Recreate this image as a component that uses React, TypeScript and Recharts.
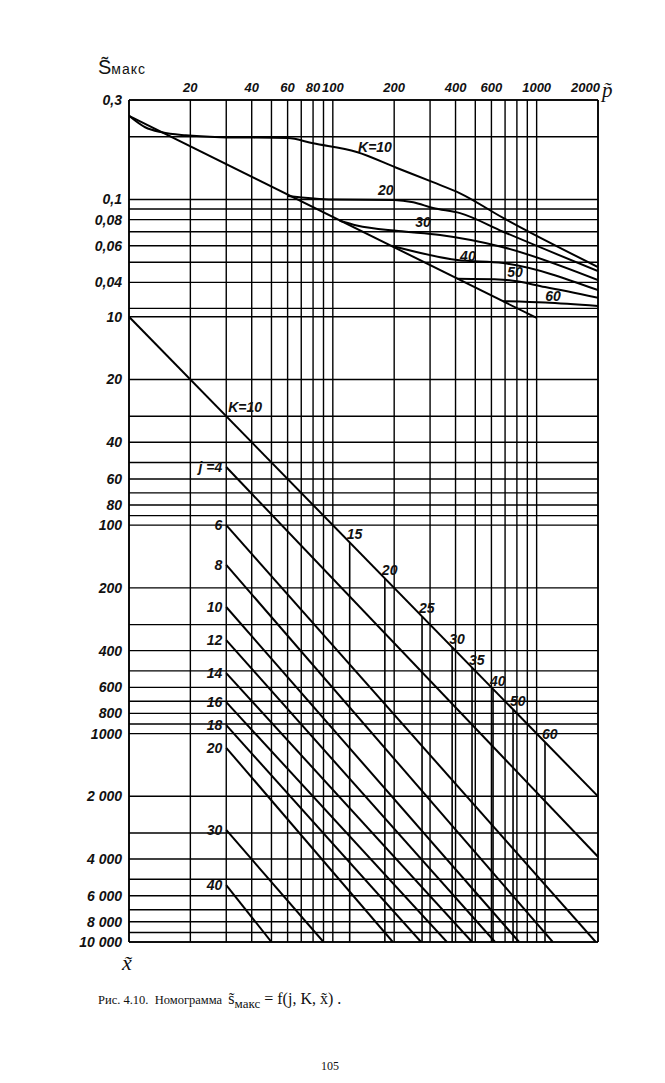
import React from "react";
import {
  LineChart,
  Line,
  XAxis,
  YAxis,
  CartesianGrid,
  ReferenceDot,
  ReferenceLine,
} from "recharts";

// p~ (top axis, log) — vertical grid lines
const pGrid = [20, 30, 40, 50, 60, 70, 80, 90, 100, 200, 300, 400, 500, 600, 700, 800, 900, 1000, 2000];
const pTickLabels = [20, 40, 60, 80, 100, 200, 400, 600, 1000, 2000];

// upper block: s~макс (log)
const sGrid = [0.3, 0.2, 0.1, 0.09, 0.08, 0.07, 0.06, 0.05, 0.04, 0.03];
const sLabelValues = [0.3, 0.1, 0.08, 0.06, 0.04];
const sLabelText = ["0,3", "0,1", "0,08", "0,06", "0,04"];

// lower block: x~ (log)
const xGrid = [10, 20, 30, 40, 50, 60, 70, 80, 90, 100, 200, 300, 400, 500, 600, 700, 800, 900, 1000,
  2000, 3000, 4000, 5000, 6000, 7000, 8000, 9000, 10000];
const xLabelValues = [10, 20, 40, 60, 80, 100, 200, 400, 600, 800, 1000, 2000, 4000, 6000, 8000, 10000];
const xLabelText = ["10", "20", "40", "60", "80", "100", "200", "400", "600", "800", "1000",
  "2 000", "4 000", "6 000", "8 000", "10 000"];

// upper block curves [p~, s~макс]
const envelopeLine = [[10, 0.252], [1000, 0.027]];
const k10Curve = [[10, 0.252], [12, 0.222], [14.5, 0.21], [19, 0.203], [28, 0.199], [60, 0.197], [80, 0.186],
  [131, 0.169], [205, 0.142], [310, 0.121], [421, 0.107], [685, 0.0815], [2000, 0.0474]];
const k20Curve = [[60, 0.104], [100, 0.1], [200, 0.0995], [248, 0.097], [310, 0.091], [421, 0.086], [685, 0.07], [2000, 0.0453]];
const k30Curve = [[108, 0.079], [131, 0.075], [210, 0.0705], [336, 0.0675], [685, 0.059], [2000, 0.041]];
const k40Curve = [[194, 0.06], [408, 0.0512], [685, 0.0495], [2000, 0.0367]];
const k50Curve = [[408, 0.0416], [685, 0.0412], [1100, 0.038], [2000, 0.0337]];
const k60Curve = [[685, 0.0325], [1100, 0.032], [2000, 0.0308]];
const topCurves = [k10Curve, k20Curve, k30Curve, k40Curve, k50Curve, k60Curve];

// lower block [p~, x~]
const kDiagonal = [[10, 10], [2000, 2000]];
const jValues = [4, 6, 8, 10, 12, 14, 16, 18, 20, 30, 40];
const jStartP = 30;
const jStartX = [52.6, 100, 155, 247, 356, 513, 706, 910, 1170, 2900, 5330];
const jEndP = [2000, 1950, 1200, 820, 625, 482, 363, 271, 197, 90, 50];
const jEndX = [3900, 10000, 10000, 10000, 10000, 10000, 10000, 10000, 10000, 10000, 10000];
const kDropP = [121, 180, 274, 385, 482, 611, 766, 1099];
const kDropK = [15, 20, 25, 30, 35, 40, 50, 60];

// one vertical coordinate in decades: s block on top, x block below
const S_TOP = 0.3;
const X_TOP = 10;
const GAP = 1.04;
const T_MAX = GAP + 3;
const tS = (s: number) => Math.log10(S_TOP / s);
const tX = (x: number) => GAP + Math.log10(x / X_TOP);

const topData = (pts: number[][]) => pts.map(([p, s]) => ({ p, y: tS(s) }));
const botData = (pts: number[][]) => pts.map(([p, x]) => ({ p, y: tX(x) }));

const yTicks = [...sGrid.map(tS), ...xGrid.map(tX)];
const yLabelMap = new Map<string, string>();
sLabelValues.forEach((v, i) => yLabelMap.set(tS(v).toFixed(4), sLabelText[i]));
xLabelValues.forEach((v, i) => yLabelMap.set(tX(v).toFixed(4), xLabelText[i]));

const hand = {
  fontFamily: "'Liberation Sans', Arial, sans-serif",
  fontStyle: "italic" as const,
  fontWeight: 700,
  fill: "#111",
};

const YTick = (props: any) => {
  const { x, y, payload } = props;
  const txt = yLabelMap.get(Number(payload.value).toFixed(4));
  if (!txt) return <g />;
  return (
    <text x={x} y={y} textAnchor="end" dominantBaseline="central" style={{ ...hand, fontSize: 14 }}>
      {txt}
    </text>
  );
};

const XTick = (props: any) => {
  const { x, y, payload } = props;
  if (!pTickLabels.includes(payload.value)) return <g />;
  const last = payload.value === 2000;
  return (
    <text x={last ? x + 2 : x} y={y} textAnchor={last ? "end" : "middle"} style={{ ...hand, fontSize: 13 }}>
      {payload.value}
    </text>
  );
};

const textShape = (txt: string, dx: number, dy: number, anchor: string, size = 14) => (props: any) => (
  <text x={props.cx + dx} y={props.cy + dy} textAnchor={anchor} style={{ ...hand, fontSize: size }}>
    {txt}
  </text>
);

const App = () => {
  const line = { stroke: "#000", dot: false, isAnimationActive: false, dataKey: "y" };
  return (
    <div style={{ position: "relative", width: 620, height: 1070 }}>
      <LineChart width={610} height={965} margin={{ top: 72, right: 20, left: 71, bottom: 31 }}>
        <CartesianGrid stroke="#000" strokeWidth={1.4} />
        <XAxis
          dataKey="p"
          type="number"
          scale="log"
          domain={[10, 2000]}
          allowDataOverflow
          orientation="top"
          height={20}
          ticks={pGrid}
          interval={0}
          tick={<XTick />}
          tickLine={false}
          tickSize={0}
          tickMargin={8}
          axisLine={{ stroke: "#000", strokeWidth: 1.6 }}
        />
        <YAxis
          type="number"
          domain={[0, T_MAX]}
          reversed
          allowDataOverflow
          width={50}
          ticks={yTicks}
          interval={0}
          tick={<YTick />}
          tickLine={false}
          tickSize={0}
          tickMargin={7}
          axisLine={{ stroke: "#000", strokeWidth: 1.6 }}
        />
        <ReferenceLine x={2000} stroke="#000" strokeWidth={1.6} />
        <ReferenceLine y={T_MAX} stroke="#000" strokeWidth={1.6} />

        {/* upper block */}
        <Line {...line} data={topData(envelopeLine)} type="linear" strokeWidth={2} />
        {topCurves.map((c, i) => (
          <Line key={"k" + i} {...line} data={topData(c)} type="monotone" strokeWidth={2} />
        ))}

        {/* lower block */}
        <Line {...line} data={botData(kDiagonal)} type="linear" strokeWidth={2} />
        {jValues.map((j, i) => (
          <Line
            key={"j" + j}
            {...line}
            data={botData([[jStartP, jStartX[i]], [jEndP[i], jEndX[i]]])}
            type="linear"
            strokeWidth={2}
          />
        ))}
        {kDropP.map((p) => (
          <Line key={"d" + p} {...line} data={botData([[p, p], [p, 10000]])} type="linear" strokeWidth={1.6} />
        ))}

        {/* labels */}
        <ReferenceDot x={161} y={tS(0.178)} r={0} shape={textShape("K=10", 0, 5, "middle")} />
        <ReferenceDot x={182} y={tS(0.111)} r={0} shape={textShape("20", 0, 5, "middle")} />
        <ReferenceDot x={277} y={tS(0.0781)} r={0} shape={textShape("30", 0, 5, "middle")} />
        <ReferenceDot x={460} y={tS(0.0535)} r={0} shape={textShape("40", 0, 5, "middle")} />
        <ReferenceDot x={783} y={tS(0.0449)} r={0} shape={textShape("50", 0, 5, "middle")} />
        <ReferenceDot x={1202} y={tS(0.0344)} r={0} shape={textShape("60", 0, 5, "middle")} />

        <ReferenceDot x={30} y={tX(30)} r={0} shape={textShape("K=10", 2, -4, "start")} />
        {kDropP.map((p, i) => (
          <ReferenceDot key={"dl" + p} x={p} y={tX(p)} r={0} shape={textShape(String(kDropK[i]), -3, -3, "start")} />
        ))}
        {jValues.map((j, i) => (
          <ReferenceDot
            key={"jl" + j}
            x={jStartP}
            y={tX(jStartX[i])}
            r={0}
            shape={textShape(i === 0 ? "j =4" : String(j), -4, 5, "end")}
          />
        ))}
      </LineChart>

      {/* axis titles */}
      <div style={{ position: "absolute", left: 90, top: 48, fontFamily: "'Liberation Sans', Arial, sans-serif", color: "#111", whiteSpace: "nowrap" }}>
        <span style={{ fontSize: 20 }}>S̃</span>
        <span style={{ fontSize: 14, letterSpacing: 1 }}>макс</span>
      </div>
      <div style={{ position: "absolute", left: 594, top: 70, fontFamily: "'Liberation Serif', serif", fontStyle: "italic", fontSize: 21, color: "#111" }}>
        p̃
      </div>
      <div style={{ position: "absolute", left: 114, top: 942, fontFamily: "'Liberation Serif', serif", fontStyle: "italic", fontSize: 22, color: "#111" }}>
        x̃
      </div>

      {/* caption */}
      <div style={{ position: "absolute", left: 90, top: 982, fontFamily: "'Liberation Serif', serif", fontSize: 12.5, color: "#111", whiteSpace: "nowrap" }}>
        Рис. 4.10.&nbsp; Номограмма&nbsp;&nbsp;
        <span style={{ fontSize: 16 }}>s̃</span>
        <span style={{ fontSize: 13, position: "relative", top: 4 }}>макс</span>
        <span style={{ fontSize: 16 }}> = f(j, K, x̃) .</span>
      </div>
      <div style={{ position: "absolute", left: 313, top: 1051, fontFamily: "'Liberation Serif', serif", fontSize: 12, color: "#111" }}>
        105
      </div>
    </div>
  );
};

export default App;
